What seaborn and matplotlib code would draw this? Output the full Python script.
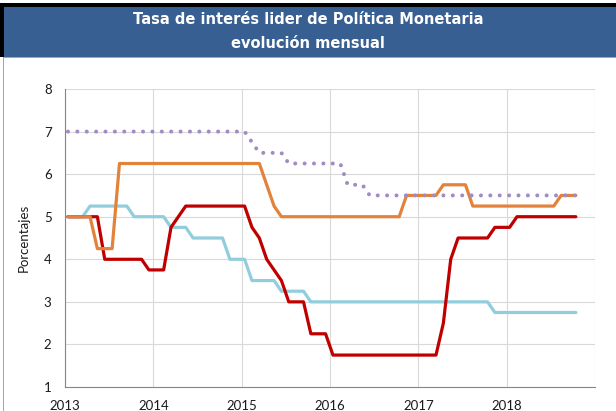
import matplotlib
matplotlib.use("Agg")
import matplotlib.pyplot as plt
from matplotlib.patches import Rectangle
import numpy as np
import pandas as pd
import seaborn as sns

# Monthly policy rates, January 2013 - October 2018 (percent)
guatemala = ([5.0] * 3 + [5.25] * 6 + [5.0] * 5 + [4.75] * 3 + [4.5] * 5 +
             [4.0] * 3 + [3.5] * 4 + [3.25] * 4 + [3.0] * 25 + [2.75] * 12)
costa_rica = ([5.0] * 5 + [4.0] * 6 + [3.75] * 3 + [4.75, 5.0] + [5.25] * 9 +
              [4.75, 4.5, 4.0, 3.75, 3.5] + [3.0] * 3 + [2.25] * 3 +
              [1.75] * 15 + [2.5, 4.0] + [4.5] * 5 + [4.75] * 3 + [5.0] * 9)
rep_dominicana = ([5.0] * 4 + [4.25] * 3 + [6.25] * 20 + [5.75, 5.25] +
                  [5.0] * 17 + [5.5] * 5 + [5.75] * 4 + [5.25] * 12 + [5.5] * 3)
honduras = ([7.0] * 25 + [6.75] + [6.5] * 4 + [6.25] * 8 + [5.75] * 3 +
            [5.5] * 29)

paises = ["Guatemala", "Costa Rica", "República Dominicana", "Honduras"]
series = [guatemala, costa_rica, rep_dominicana, honduras]
colores = ["#92CDDC", "#C00000", "#E3823A", "#A08CC4"]

year_ticks = [2013, 2014, 2015, 2016, 2017, 2018, 2019]
year_labels = ["2013", "2014", "2015", "2016", "2017", "2018", ""]
y_ticks = [1, 2, 3, 4, 5, 6, 7, 8]

n_meses = len(guatemala)
fecha = 2013 + (np.arange(n_meses) + 0.4) / 12.0

df = pd.concat(
    [pd.DataFrame({"fecha": fecha, "tasa": vals, "pais": p})
     for p, vals in zip(paises, series)],
    ignore_index=True,
)

sns.set_style("white")
plt.rcParams["font.family"] = ["Lato", "DejaVu Sans"]

W, H = 616, 411
fig = plt.figure(figsize=(W / 100, H / 100), dpi=100)


def px_rect(x0, y0, x1, y1, **kw):
    fig.add_artist(Rectangle((x0 / W, 1 - y1 / H), (x1 - x0) / W, (y1 - y0) / H,
                             transform=fig.transFigure, lw=0, **kw))


# header banner with its frame
px_rect(0, 3, W, 7, color="black")
px_rect(0, 3, 4, 57, color="black")
px_rect(4, 7, W, 57, color="#375F91")
px_rect(3, 57, W, 58, color="#A6A6A6")
px_rect(3, 57, 4, H, color="#A6A6A6")

fig.text(308 / W, 1 - 19 / H, "Tasa de interés lider de Política Monetaria",
         ha="center", va="center", color="white", fontsize=10.5,
         fontweight="bold", family="DejaVu Sans")
fig.text(308 / W, 1 - 43 / H, "evolución mensual",
         ha="center", va="center", color="white", fontsize=10.5,
         fontweight="bold", family="DejaVu Sans")

ax = fig.add_axes([65 / W, 24 / H, 530 / W, 298 / H])

dashes = {p: "" for p in paises}
dashes["Honduras"] = (0.01, 2.32)
sns.lineplot(data=df, x="fecha", y="tasa", hue="pais", style="pais",
             hue_order=paises, style_order=paises,
             palette=dict(zip(paises, colores)), dashes=dashes,
             legend=False, ax=ax, linewidth=2.3)

for i, line in enumerate(ax.lines):
    line.set_solid_capstyle("round")
    line.set_solid_joinstyle("round")
    line.set_dash_capstyle("round")
    line.set_zorder(3 + i)
    if paises[i] == "Honduras":
        line.set_linewidth(2.9)

ax.set_xlim(2013, 2019)
ax.set_ylim(1, 8)
ax.set_xticks(year_ticks)
ax.set_xticklabels(year_labels)
ax.set_yticks(y_ticks)
ax.set_yticklabels([str(v) for v in y_ticks])

ax.grid(True, color="#D9D9D9", linewidth=0.8)
ax.set_axisbelow(True)
for s in ["top", "right"]:
    ax.spines[s].set_visible(False)
for s in ["left", "bottom"]:
    ax.spines[s].set_color("#868686")
    ax.spines[s].set_linewidth(0.8)

ax.tick_params(axis="both", direction="out", length=3.2, width=0.8,
               color="#868686", labelsize=9.5, labelcolor="#1A1A1A")
ax.tick_params(axis="y", pad=6.5)
ax.tick_params(axis="x", pad=6)

ax.set_xlabel("")
ax.set_ylabel("Porcentajes", fontsize=9.5, color="#1A1A1A")
ax.yaxis.set_label_coords(-0.066, 0.5)

fig.savefig("out.png", dpi=100, facecolor="white")
